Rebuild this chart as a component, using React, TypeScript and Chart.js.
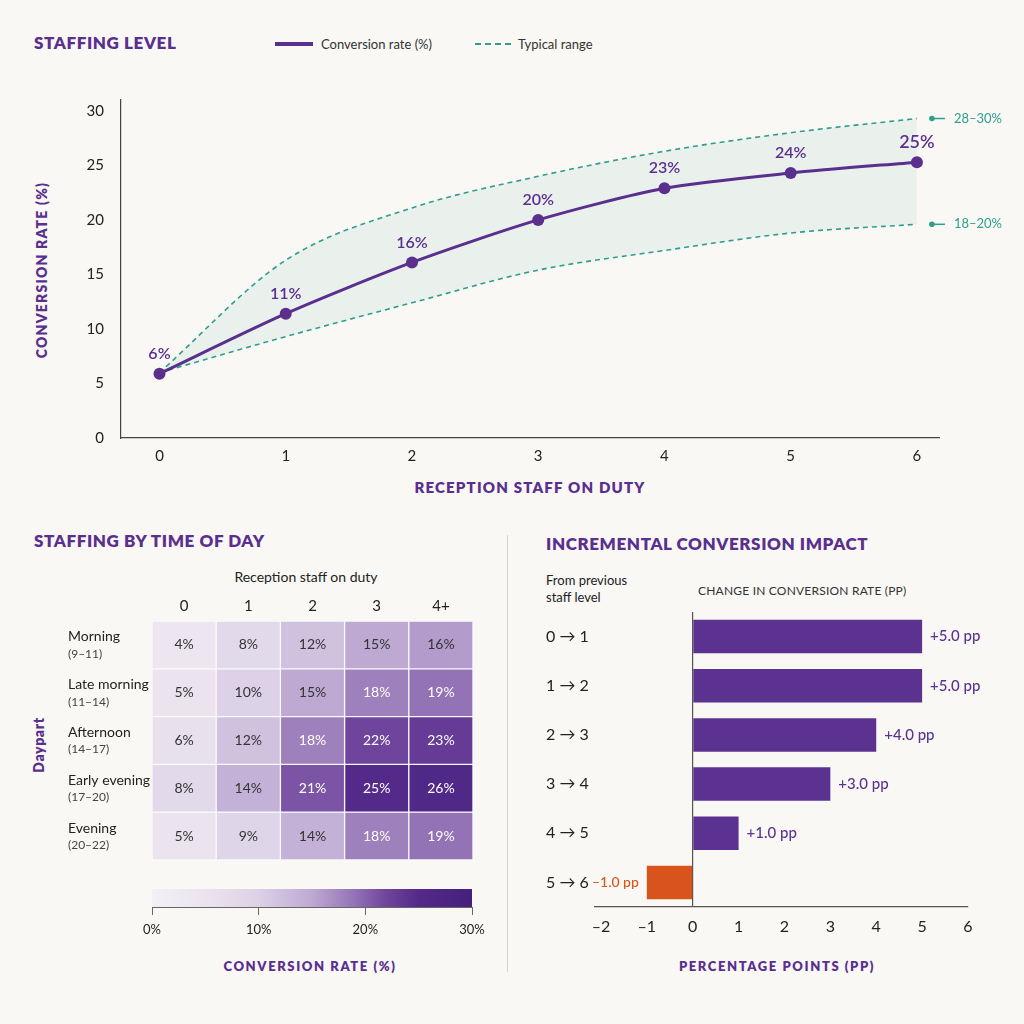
import React, { useEffect, useRef } from 'react';
import { Chart, registerables } from 'chart.js';

Chart.register(...registerables);

const FONT = 'Lato, "Noto Sans", "DejaVu Sans", sans-serif';
Chart.defaults.font.family = FONT;

const PURPLE = '#5a2f8e';
const BAR_PURPLE = '#5b3290';
const TEAL = '#2f9e8c';
const ORANGE = '#d9541c';
const INK = '#222222';
const BG = '#f9f8f5';

// ---------- Top chart: staffing level ----------
const staffLevels = [0, 1, 2, 3, 4, 5, 6];
const conversionRate = [5.9, 11.4, 16.1, 20.0, 22.9, 24.3, 25.3];
const rangeUpper = [6.0, 16.3, 21.1, 24.0, 26.3, 28.0, 29.3];
const rangeLower = [6.0, 9.3, 12.4, 15.4, 17.2, 18.8, 19.6];
const rangeEndLabels = ['28–30%', '18–20%'];
const conversionTicks = [0, 5, 10, 15, 20, 25, 30];

// ---------- Heatmap: staffing by time of day ----------
const staffColumns = ['0', '1', '2', '3', '4+'];
const dayparts = ['Morning', 'Late morning', 'Afternoon', 'Early evening', 'Evening'];
const daypartHours = ['(9–11)', '(11–14)', '(14–17)', '(17–20)', '(20–22)'];
const heatMorning = [4, 8, 12, 15, 16];
const heatLateMorning = [5, 10, 15, 18, 19];
const heatAfternoon = [6, 12, 18, 22, 23];
const heatEarlyEvening = [8, 14, 21, 25, 26];
const heatEvening = [5, 9, 14, 18, 19];
const heatRows = [heatMorning, heatLateMorning, heatAfternoon, heatEarlyEvening, heatEvening];
const colorbarTicks = [0, 10, 20, 30];

// ---------- Incremental impact ----------
const transitions = ['0 → 1', '1 → 2', '2 → 3', '3 → 4', '4 → 5', '5 → 6'];
const deltaPP = [5.0, 5.0, 4.0, 3.0, 1.0, -1.0];
const ppTicks = [-2, -1, 0, 1, 2, 3, 4, 5, 6];

// colour scale (style)
const scaleStops: [number, string][] = [
  [0, '#f3f0f5'],
  [5, '#ebe4ef'],
  [10, '#dcd1e7'],
  [15, '#bea9d3'],
  [18, '#9e80bd'],
  [20, '#8763ae'],
  [22, '#6f449c'],
  [25, '#532a8a'],
  [30, '#45207c'],
];

function hexToRgb(h: string) {
  const n = parseInt(h.slice(1), 16);
  return [(n >> 16) & 255, (n >> 8) & 255, n & 255];
}

function colorFor(v: number) {
  for (let i = 0; i < scaleStops.length - 1; i++) {
    const [a, ca] = scaleStops[i];
    const [b, cb] = scaleStops[i + 1];
    if (v >= a && v <= b) {
      const t = (v - a) / (b - a);
      const A = hexToRgb(ca);
      const B = hexToRgb(cb);
      const c = A.map((x, k) => Math.round(x + (B[k] - x) * t));
      return `rgb(${c[0]},${c[1]},${c[2]})`;
    }
  }
  return scaleStops[scaleStops.length - 1][1];
}

function useChart(makeConfig: () => any) {
  const ref = useRef<HTMLCanvasElement | null>(null);
  useEffect(() => {
    if (!ref.current) return;
    const chart = new Chart(ref.current, makeConfig());
    return () => chart.destroy();
  }, []);
  return ref;
}

function Box({ left, top, width, height, children }: any) {
  return (
    <div style={{ position: 'absolute', left, top, width, height }}>{children}</div>
  );
}

function Txt({ x, y, children, size = 13, weight = 400, color = INK, align = 'left', spacing = 0, rotate = false }: any) {
  const style: any = {
    position: 'absolute',
    left: x,
    top: y,
    fontFamily: FONT,
    fontSize: size,
    fontWeight: weight,
    color,
    letterSpacing: spacing,
    whiteSpace: 'nowrap',
    lineHeight: '20px',
    height: 20,
  };
  if (rotate) {
    style.transform = 'translate(-50%, -50%) rotate(-90deg)';
  } else if (align === 'center') {
    style.transform = 'translate(-50%, -50%)';
  } else {
    style.transform = 'translate(0, -50%)';
  }
  return <div style={style}>{children}</div>;
}

function LineChart() {
  const ref = useChart(() => {
    const pointLabels = {
      id: 'pointLabels',
      afterDatasetsDraw(chart: any) {
        const ctx = chart.ctx;
        const meta = chart.getDatasetMeta(2);
        ctx.save();
        ctx.fillStyle = PURPLE;
        ctx.textAlign = 'center';
        ctx.textBaseline = 'middle';
        meta.data.forEach((el: any, i: number) => {
          const size = i === meta.data.length - 1 ? 18 : 16;
          ctx.font = `600 ${size}px ${FONT}`;
          ctx.fillText(`${Math.round(conversionRate[i])}%`, el.x, el.y - 20);
        });
        // range end markers
        [0, 1].forEach((d) => {
          const m = chart.getDatasetMeta(d);
          const last = m.data[m.data.length - 1];
          const x0 = last.x + 15;
          ctx.strokeStyle = TEAL;
          ctx.fillStyle = TEAL;
          ctx.lineWidth = 1.5;
          ctx.beginPath();
          ctx.arc(x0, last.y, 2.8, 0, Math.PI * 2);
          ctx.fill();
          ctx.beginPath();
          ctx.moveTo(x0, last.y);
          ctx.lineTo(x0 + 13, last.y);
          ctx.stroke();
          ctx.font = `400 13px ${FONT}`;
          ctx.textAlign = 'left';
          ctx.fillText(rangeEndLabels[d], x0 + 22, last.y);
        });
        ctx.restore();
      },
    };
    return {
      type: 'line',
      data: {
        datasets: [
          {
            label: 'Typical range (upper)',
            data: staffLevels.map((x, i) => ({ x, y: rangeUpper[i] })),
            borderColor: TEAL,
            borderWidth: 1.6,
            borderDash: [5, 4],
            pointRadius: 0,
            cubicInterpolationMode: 'monotone',
            fill: '+1',
            backgroundColor: 'rgba(47,158,140,0.07)',
            order: 2,
          },
          {
            label: 'Typical range (lower)',
            data: staffLevels.map((x, i) => ({ x, y: rangeLower[i] })),
            borderColor: TEAL,
            borderWidth: 1.6,
            borderDash: [5, 4],
            pointRadius: 0,
            cubicInterpolationMode: 'monotone',
            fill: false,
            order: 3,
          },
          {
            label: 'Conversion rate (%)',
            data: staffLevels.map((x, i) => ({ x, y: conversionRate[i] })),
            borderColor: PURPLE,
            borderWidth: 3,
            pointRadius: 6,
            pointBackgroundColor: PURPLE,
            pointBorderWidth: 0,
            tension: 0.25,
            fill: false,
            order: 1,
          },
        ],
      },
      options: {
        animation: false,
        responsive: true,
        maintainAspectRatio: false,
        layout: { padding: { left: 0, right: 85, top: 40, bottom: 52 } },
        plugins: { legend: { display: false }, tooltip: { enabled: false } },
        scales: {
          x: {
            type: 'linear',
            min: -0.305,
            max: 6.175,
            afterBuildTicks: (s: any) => {
              s.ticks = staffLevels.map((v) => ({ value: v }));
            },
            afterFit: (s: any) => {
              s.height = 30;
            },
            grid: { display: false, drawTicks: false },
            border: { display: true, color: '#444', width: 1.2 },
            ticks: { color: INK, font: { size: 15 }, padding: 9, callback: (v: any) => String(v) },
          },
          y: {
            type: 'linear',
            min: 0,
            max: 31,
            afterBuildTicks: (s: any) => {
              s.ticks = conversionTicks.map((v) => ({ value: v }));
            },
            afterFit: (s: any) => {
              s.width = 121;
            },
            grid: { display: false, drawTicks: false },
            border: { display: true, color: '#444', width: 1.2 },
            ticks: { color: INK, font: { size: 15 }, padding: 17 },
          },
        },
      },
      plugins: [pointLabels],
    };
  });
  return (
    <Box left={0} top={60} width={1024} height={460}>
      <canvas ref={ref} style={{ display: 'block', width: '100%', height: '100%' }} />
    </Box>
  );
}

function HeatmapChart() {
  const ref = useChart(() => {
    const cellLabels = {
      id: 'cellLabels',
      afterDatasetsDraw(chart: any) {
        const ctx = chart.ctx;
        const ys = chart.scales.y;
        ctx.save();
        ctx.textBaseline = 'middle';
        heatRows.forEach((row, r) => {
          const meta = chart.getDatasetMeta(r);
          meta.data.forEach((el: any, c: number) => {
            const v = row[c];
            ctx.font = `400 14px ${FONT}`;
            ctx.textAlign = 'center';
            ctx.fillStyle = v >= 17 ? '#ffffff' : '#333333';
            ctx.fillText(`${v}%`, el.x, (el.y + el.base) / 2);
          });
          const cy = ys.getPixelForValue(r + 0.5);
          ctx.textAlign = 'left';
          ctx.fillStyle = INK;
          ctx.font = `400 14px ${FONT}`;
          ctx.fillText(dayparts[r], 68, cy - 8);
          ctx.fillStyle = '#444';
          ctx.font = `400 12px ${FONT}`;
          ctx.fillText(daypartHours[r], 68, cy + 9);
        });
        ctx.restore();
      },
    };
    return {
      type: 'bar',
      data: {
        labels: staffColumns,
        datasets: dayparts.map((name, r) => ({
          label: name,
          data: staffColumns.map(() => 1),
          backgroundColor: heatRows[r].map(colorFor),
          borderColor: '#fbfafc',
          borderWidth: 1,
          borderSkipped: false,
          barPercentage: 1,
          categoryPercentage: 1,
        })),
      },
      options: {
        animation: false,
        responsive: true,
        maintainAspectRatio: false,
        layout: { padding: { left: 152, right: 27, top: 0, bottom: 10 } },
        plugins: { legend: { display: false }, tooltip: { enabled: false } },
        scales: {
          x: {
            type: 'category',
            position: 'top',
            stacked: true,
            afterFit: (s: any) => {
              s.height = 31;
            },
            grid: { display: false, drawTicks: false },
            border: { display: false },
            ticks: { color: INK, font: { size: 15 }, padding: 6 },
          },
          y: {
            type: 'linear',
            stacked: true,
            min: 0,
            max: dayparts.length,
            reverse: true,
            display: false,
          },
        },
      },
      plugins: [cellLabels],
    };
  });
  return (
    <Box left={0} top={590} width={500} height={280}>
      <canvas ref={ref} style={{ display: 'block', width: '100%', height: '100%' }} />
    </Box>
  );
}

function ColorbarChart() {
  const ref = useChart(() => {
    const lo = colorbarTicks[0];
    const hi = colorbarTicks[colorbarTicks.length - 1];
    return {
      type: 'bar',
      data: {
        labels: ['Conversion rate (%)'],
        datasets: [
          {
            data: [[lo, hi]],
            backgroundColor: (c: any) => {
              const chart = c.chart;
              const area = chart.chartArea;
              if (!area) return colorFor((lo + hi) / 2);
              const g = chart.ctx.createLinearGradient(area.left, 0, area.right, 0);
              scaleStops.forEach(([v, col]) => g.addColorStop((v - lo) / (hi - lo), col));
              return g;
            },
            borderWidth: 0,
            barPercentage: 1,
            categoryPercentage: 1,
          },
        ],
      },
      options: {
        indexAxis: 'y',
        animation: false,
        responsive: true,
        maintainAspectRatio: false,
        layout: { padding: { left: 152, right: 28, top: 9, bottom: 13 } },
        plugins: { legend: { display: false }, tooltip: { enabled: false } },
        scales: {
          x: {
            type: 'linear',
            min: lo,
            max: hi,
            afterBuildTicks: (s: any) => {
              s.ticks = colorbarTicks.map((v) => ({ value: v }));
            },
            afterFit: (s: any) => {
              s.height = 30;
            },
            grid: { display: true, drawOnChartArea: false, drawTicks: true, tickLength: 8, color: '#666', lineWidth: 1 },
            border: { display: true, color: '#666', width: 1 },
            ticks: { color: INK, font: { size: 13 }, padding: 7, callback: (v: any) => `${v}%` },
          },
          y: { type: 'category', display: false },
        },
      },
    };
  });
  return (
    <Box left={0} top={880} width={500} height={70}>
      <canvas ref={ref} style={{ display: 'block', width: '100%', height: '100%' }} />
    </Box>
  );
}

function ImpactChart() {
  const ref = useChart(() => {
    const valueLabels = {
      id: 'valueLabels',
      afterDatasetsDraw(chart: any) {
        const ctx = chart.ctx;
        const meta = chart.getDatasetMeta(0);
        ctx.save();
        ctx.textBaseline = 'middle';
        meta.data.forEach((el: any, i: number) => {
          const v = deltaPP[i];
          const txt = `${v >= 0 ? '+' : '–'}${Math.abs(v).toFixed(1)} pp`;
          if (v >= 0) {
            ctx.fillStyle = BAR_PURPLE;
            ctx.font = `500 15px ${FONT}`;
            ctx.textAlign = 'left';
            ctx.fillText(txt, el.x + 8, el.y);
          } else {
            ctx.fillStyle = ORANGE;
            ctx.font = `500 14px ${FONT}`;
            ctx.textAlign = 'right';
            ctx.fillText(txt, el.x - 8, el.y);
          }
        });
        ctx.restore();
      },
    };
    return {
      type: 'bar',
      data: {
        labels: transitions,
        datasets: [
          {
            data: deltaPP,
            backgroundColor: deltaPP.map((v) => (v < 0 ? ORANGE : BAR_PURPLE)),
            borderWidth: 0,
            barPercentage: 0.68,
            categoryPercentage: 1,
          },
        ],
      },
      options: {
        indexAxis: 'y',
        animation: false,
        responsive: true,
        maintainAspectRatio: false,
        layout: { padding: { left: 26, right: 52, top: 12, bottom: 8 } },
        plugins: { legend: { display: false }, tooltip: { enabled: false } },
        scales: {
          x: {
            type: 'linear',
            min: -2.13,
            max: 6,
            afterBuildTicks: (s: any) => {
              s.ticks = ppTicks.map((v) => ({ value: v }));
            },
            afterFit: (s: any) => {
              s.height = 30;
            },
            grid: {
              display: true,
              drawOnChartArea: true,
              drawTicks: false,
              lineWidth: 1.2,
              color: (c: any) => (c.tick && c.tick.value === 0 ? '#555' : 'rgba(0,0,0,0)'),
            },
            border: { display: true, color: '#555', width: 1.2 },
            ticks: {
              color: INK,
              font: { size: 16 },
              padding: 10,
              callback: (v: any) => (v < 0 ? `–${Math.abs(v)}` : String(v)),
            },
          },
          y: {
            type: 'category',
            afterFit: (s: any) => {
              s.width = 49;
            },
            grid: { display: false, drawTicks: false },
            border: { display: false },
            ticks: { color: INK, font: { size: 16 }, padding: 0, crossAlign: 'far' },
          },
        },
      },
      plugins: [valueLabels],
    };
  });
  return (
    <Box left={520} top={600} width={500} height={345}>
      <canvas ref={ref} style={{ display: 'block', width: '100%', height: '100%' }} />
    </Box>
  );
}

export default function App() {
  return (
    <div
      style={{
        position: 'absolute',
        left: 0,
        top: 0,
        width: 1024,
        height: 1024,
        background: BG,
        overflow: 'hidden',
        fontFamily: FONT,
      }}
    >
      {/* Top panel */}
      <Txt x={34} y={43} size={17} weight={800} color={PURPLE} spacing={0.6}>STAFFING LEVEL</Txt>
      <div style={{ position: 'absolute', left: 275, top: 42, width: 38, height: 4, background: PURPLE }} />
      <Txt x={321} y={44} size={13} color="#333">Conversion rate (%)</Txt>
      <div style={{ position: 'absolute', left: 475, top: 43, width: 36, height: 0, borderTop: `2px dashed ${TEAL}` }} />
      <Txt x={518} y={44} size={13} color="#333">Typical range</Txt>
      <Txt x={42} y={270} size={14} weight={800} color={PURPLE} spacing={1.2} rotate>CONVERSION RATE (%)</Txt>
      <Txt x={530} y={487} size={15} weight={800} color={PURPLE} spacing={1.2} align="center">RECEPTION STAFF ON DUTY</Txt>
      <LineChart />

      {/* Bottom-left panel */}
      <Txt x={34} y={541} size={17} weight={800} color={PURPLE} spacing={0.6}>STAFFING BY TIME OF DAY</Txt>
      <Txt x={306} y={577} size={14} color={INK} align="center">Reception staff on duty</Txt>
      <Txt x={39} y={745} size={14} weight={800} color={PURPLE} spacing={0.6} rotate>Daypart</Txt>
      <HeatmapChart />
      <ColorbarChart />
      <Txt x={310} y={966} size={13} weight={800} color={PURPLE} spacing={1.6} align="center">CONVERSION RATE (%)</Txt>

      <div style={{ position: 'absolute', left: 507, top: 535, width: 1, height: 437, background: '#d6d4d0' }} />

      {/* Bottom-right panel */}
      <Txt x={546} y={544} size={17} weight={800} color={PURPLE} spacing={0.6}>INCREMENTAL CONVERSION IMPACT</Txt>
      <Txt x={546} y={580} size={13} color={INK}>From previous</Txt>
      <Txt x={546} y={597} size={13} color={INK}>staff level</Txt>
      <Txt x={698} y={591} size={12} color="#333" spacing={0.2}>CHANGE IN CONVERSION RATE (PP)</Txt>
      <ImpactChart />
      <Txt x={777} y={966} size={13} weight={800} color={PURPLE} spacing={1.6} align="center">PERCENTAGE POINTS (PP)</Txt>
    </div>
  );
}
